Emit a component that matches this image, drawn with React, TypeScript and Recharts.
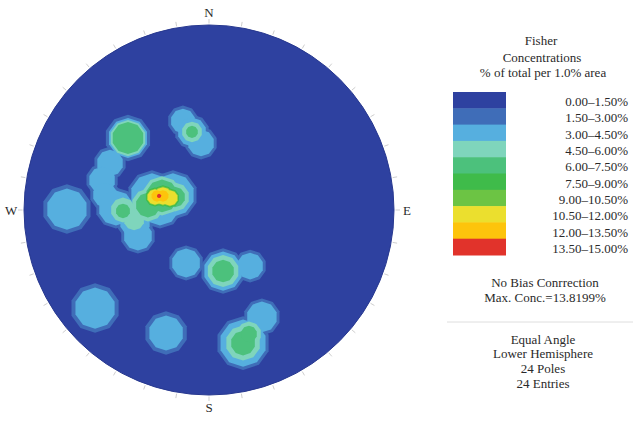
import { ScatterChart, Scatter, XAxis, YAxis, Legend } from 'recharts';

// contour classes (% of total per 1.0% area)
const levelRanges = [
  '0.00–1.50%', '1.50–3.00%', '3.00–4.50%', '4.50–6.00%', '6.00–7.50%',
  '7.50–9.00%', '9.00–10.50%', '10.50–12.00%', '12.00–13.50%', '13.50–15.00%',
];
const levelColors = [
  '#2e41a0', '#3f6db8', '#56afdf', '#7fd5bc', '#4cc17c',
  '#3fbb4a', '#6cc444', '#ebdf2e', '#fdc40c', '#e1332b',
];

// net coordinates in % of the primitive circle radius (E = +x, N = +y)
// r = contour radius for class 1..9 (0 / missing = not reached)
const contourCells = [
  { x: -43.8, y: 38.9, r: [12.2, 10.5, 9.5, 8.4] },
  { x: -53.5, y: 25.4, r: [8.6, 7.0] },
  { x: -57.8, y: 16.2, r: [8.6, 7.0] },
  { x: -56.2, y: 8.1, r: [8.1, 6.5] },
  { x: -14.1, y: 48.1, r: [8.1, 6.5] },
  { x: -9.2, y: 42.2, r: [9.2, 7.6, 5.4, 3.2] },
  { x: -4.3, y: 36.2, r: [8.6, 7.0] },
  { x: -30.8, y: 8.1, r: [13.0, 11.4] },
  { x: -19.5, y: 8.1, r: [13.0, 11.4] },
  { x: -26.5, y: 2.2, r: [11.9, 10.3] },
  { x: -33.0, y: 2.7, r: [0, 0, 8.6, 6.5] },
  { x: -25.4, y: 7.6, r: [0, 0, 10.3, 8.6] },
  { x: -18.4, y: 7.0, r: [0, 0, 7.6, 5.4] },
  { x: -29.2, y: 7.0, r: [0, 0, 0, 0, 5.0, 4.5, 4.1] },
  { x: -24.9, y: 7.6, r: [0, 0, 0, 0, 5.6, 5.1, 4.6, 3.0] },
  { x: -21.1, y: 6.5, r: [0, 0, 0, 0, 5.0, 4.5, 4.1] },
  { x: -28.1, y: 7.6, r: [0, 0, 0, 0, 0, 0, 0, 3.0] },
  { x: -27.0, y: 7.6, r: [0, 0, 0, 0, 0, 0, 0, 0, 1.1] },
  { x: -50.3, y: 1.1, r: [10.8, 9.2] },
  { x: -40.0, y: -6.5, r: [9.7, 8.1] },
  { x: -46.5, y: 0.0, r: [0, 0, 6.5] },
  { x: -40.5, y: -5.4, r: [0, 0, 5.4] },
  { x: -46.5, y: -0.5, r: [0, 0, 0, 3.8] },
  { x: -38.4, y: -14.1, r: [9.2, 7.6] },
  { x: -76.8, y: 0.5, r: [13.0, 10.8] },
  { x: -12.4, y: -28.6, r: [9.2, 7.6] },
  { x: 7.6, y: -33.0, r: [11.9, 10.3, 8.4, 5.9] },
  { x: 22.2, y: -30.3, r: [8.6, 7.0] },
  { x: -61.6, y: -53.0, r: [13.0, 10.8] },
  { x: -23.2, y: -66.5, r: [11.4, 9.2] },
  { x: 18.4, y: -71.9, r: [14.1, 12.4, 9.2, 6.5] },
  { x: 28.6, y: -57.8, r: [9.7, 8.1] },
  { x: 21.6, y: -67.0, r: [0, 0, 6.5, 4.3] },
];

const compassPoints = [
  { label: 'N', azimuth: 0 },
  { label: 'E', azimuth: 90 },
  { label: 'S', azimuth: 180 },
  { label: 'W', azimuth: 270 },
];
const ringTicks = Array.from({ length: 36 }, (_, i) => i * 10);

const notes = ['No Bias Conrrection', 'Max. Conc.=13.8199%'];
const projection = ['Equal Angle', 'Lower Hemisphere', '24 Poles', '24 Entries'];

const W = 633;
const H = 421;
const NET_R = 185; // primitive circle radius, px
const DOMAIN = 112;
const PX = NET_R / 100; // px per net unit
const PLOT = 2 * DOMAIN * PX;
const CX = 209;
const CY = 210;
const FONT = '"Liberation Serif", "DejaVu Serif", serif';
const INK = '#2a2a2a';

const rad = (deg: number) => (deg * Math.PI) / 180;

function polygon(cx: number, cy: number, r: number, sides = 10) {
  const pts: string[] = [];
  for (let i = 0; i < sides; i++) {
    const a = rad(18 + (360 / sides) * i);
    pts.push(`${cx + r * Math.cos(a)},${cy + r * Math.sin(a)}`);
  }
  return pts.join(' ');
}

function ConcentrationKey() {
  const top = 92;
  const rowH = 16.3;
  return (
    <svg width={213} height={421} style={{ display: 'block' }}>
      <g fontFamily={FONT} fontSize={13} fill={INK} textAnchor="middle">
        <text x={121} y={40} dominantBaseline="central">Fisher</text>
        <text x={122} y={57} dominantBaseline="central">Concentrations</text>
        <text x={123} y={72} dominantBaseline="central">% of total per 1.0% area</text>
      </g>
      {levelColors.map((c, i) => (
        <rect key={c} x={33} y={top + i * rowH} width={53} height={rowH + 0.5} fill={c} />
      ))}
      <g fontFamily={FONT} fontSize={13} fill={INK} textAnchor="end">
        {levelRanges.map((t, i) => (
          <text key={t} x={208} y={top + (i + 0.5) * rowH + 1.5} dominantBaseline="central">{t}</text>
        ))}
      </g>
      <g fontFamily={FONT} fontSize={13} fill={INK} textAnchor="middle">
        {notes.map((t, i) => (
          <text key={t} x={125} y={282 + i * 15} dominantBaseline="central">{t}</text>
        ))}
        {projection.map((t, i) => (
          <text key={t} x={123} y={339 + i * 14.7} dominantBaseline="central">{t}</text>
        ))}
      </g>
      <line x1={27} x2={213} y1={322} y2={322} stroke="#dedede" strokeWidth={1} />
    </svg>
  );
}

export default function App() {
  const levels = [1, 2, 3, 4, 5, 6, 7, 8, 9].map(k => ({
    k,
    data: contourCells
      .filter(c => (c.r[k - 1] || 0) > 0)
      .map(c => ({ x: c.x, y: c.y, size: c.r[k - 1] })),
  }));
  const tickData = ringTicks.map(a => ({ x: 100 * Math.sin(rad(a)), y: 100 * Math.cos(rad(a)), az: a }));
  const labelData = compassPoints.map(p => ({
    x: 107 * Math.sin(rad(p.azimuth)),
    y: 107 * Math.cos(rad(p.azimuth)),
    label: p.label,
  }));

  return (
    <div style={{ position: 'absolute', left: 0, top: 0, width: W, height: H, background: '#fff' }}>
      <ScatterChart
        width={W}
        height={H}
        margin={{ top: CY - PLOT / 2, left: CX - PLOT / 2, right: W - CX - PLOT / 2, bottom: H - CY - PLOT / 2 }}
      >
        <XAxis type="number" dataKey="x" domain={[-DOMAIN, DOMAIN]} hide />
        <YAxis type="number" dataKey="y" domain={[-DOMAIN, DOMAIN]} hide />
        <Legend
          layout="vertical"
          align="center"
          verticalAlign="middle"
          wrapperStyle={{ left: 420, top: 0, width: 213, height: 421 }}
          content={() => <ConcentrationKey />}
        />
        <Scatter
          data={[{ x: 0, y: 0 }]}
          isAnimationActive={false}
          legendType="none"
          shape={(p: any) => (
            <circle cx={p.cx} cy={p.cy} r={100 * PX} fill={levelColors[0]} stroke="#27388f" strokeWidth={1} />
          )}
        />
        <Scatter
          data={tickData}
          isAnimationActive={false}
          legendType="none"
          shape={(p: any) => {
            const a = rad(p.payload.az);
            const dx = Math.sin(a);
            const dy = -Math.cos(a);
            return (
              <line x1={p.cx + dx * 1.5} y1={p.cy + dy * 1.5} x2={p.cx + dx * 6} y2={p.cy + dy * 6} stroke="#cfcfcf" strokeWidth={1} />
            );
          }}
        />
        {levels.map(l => (
          <Scatter
            key={l.k}
            data={l.data}
            isAnimationActive={false}
            legendType="none"
            shape={(p: any) => (
              <polygon points={polygon(p.cx, p.cy, p.payload.size * PX * 1.03)} fill={levelColors[l.k]} />
            )}
          />
        ))}
        <Scatter
          data={labelData}
          isAnimationActive={false}
          legendType="none"
          shape={(p: any) => (
            <text x={p.cx} y={p.cy} textAnchor="middle" dominantBaseline="central" fontFamily={FONT} fontSize={13} fill={INK}>
              {p.payload.label}
            </text>
          )}
        />
      </ScatterChart>
    </div>
  );
}
